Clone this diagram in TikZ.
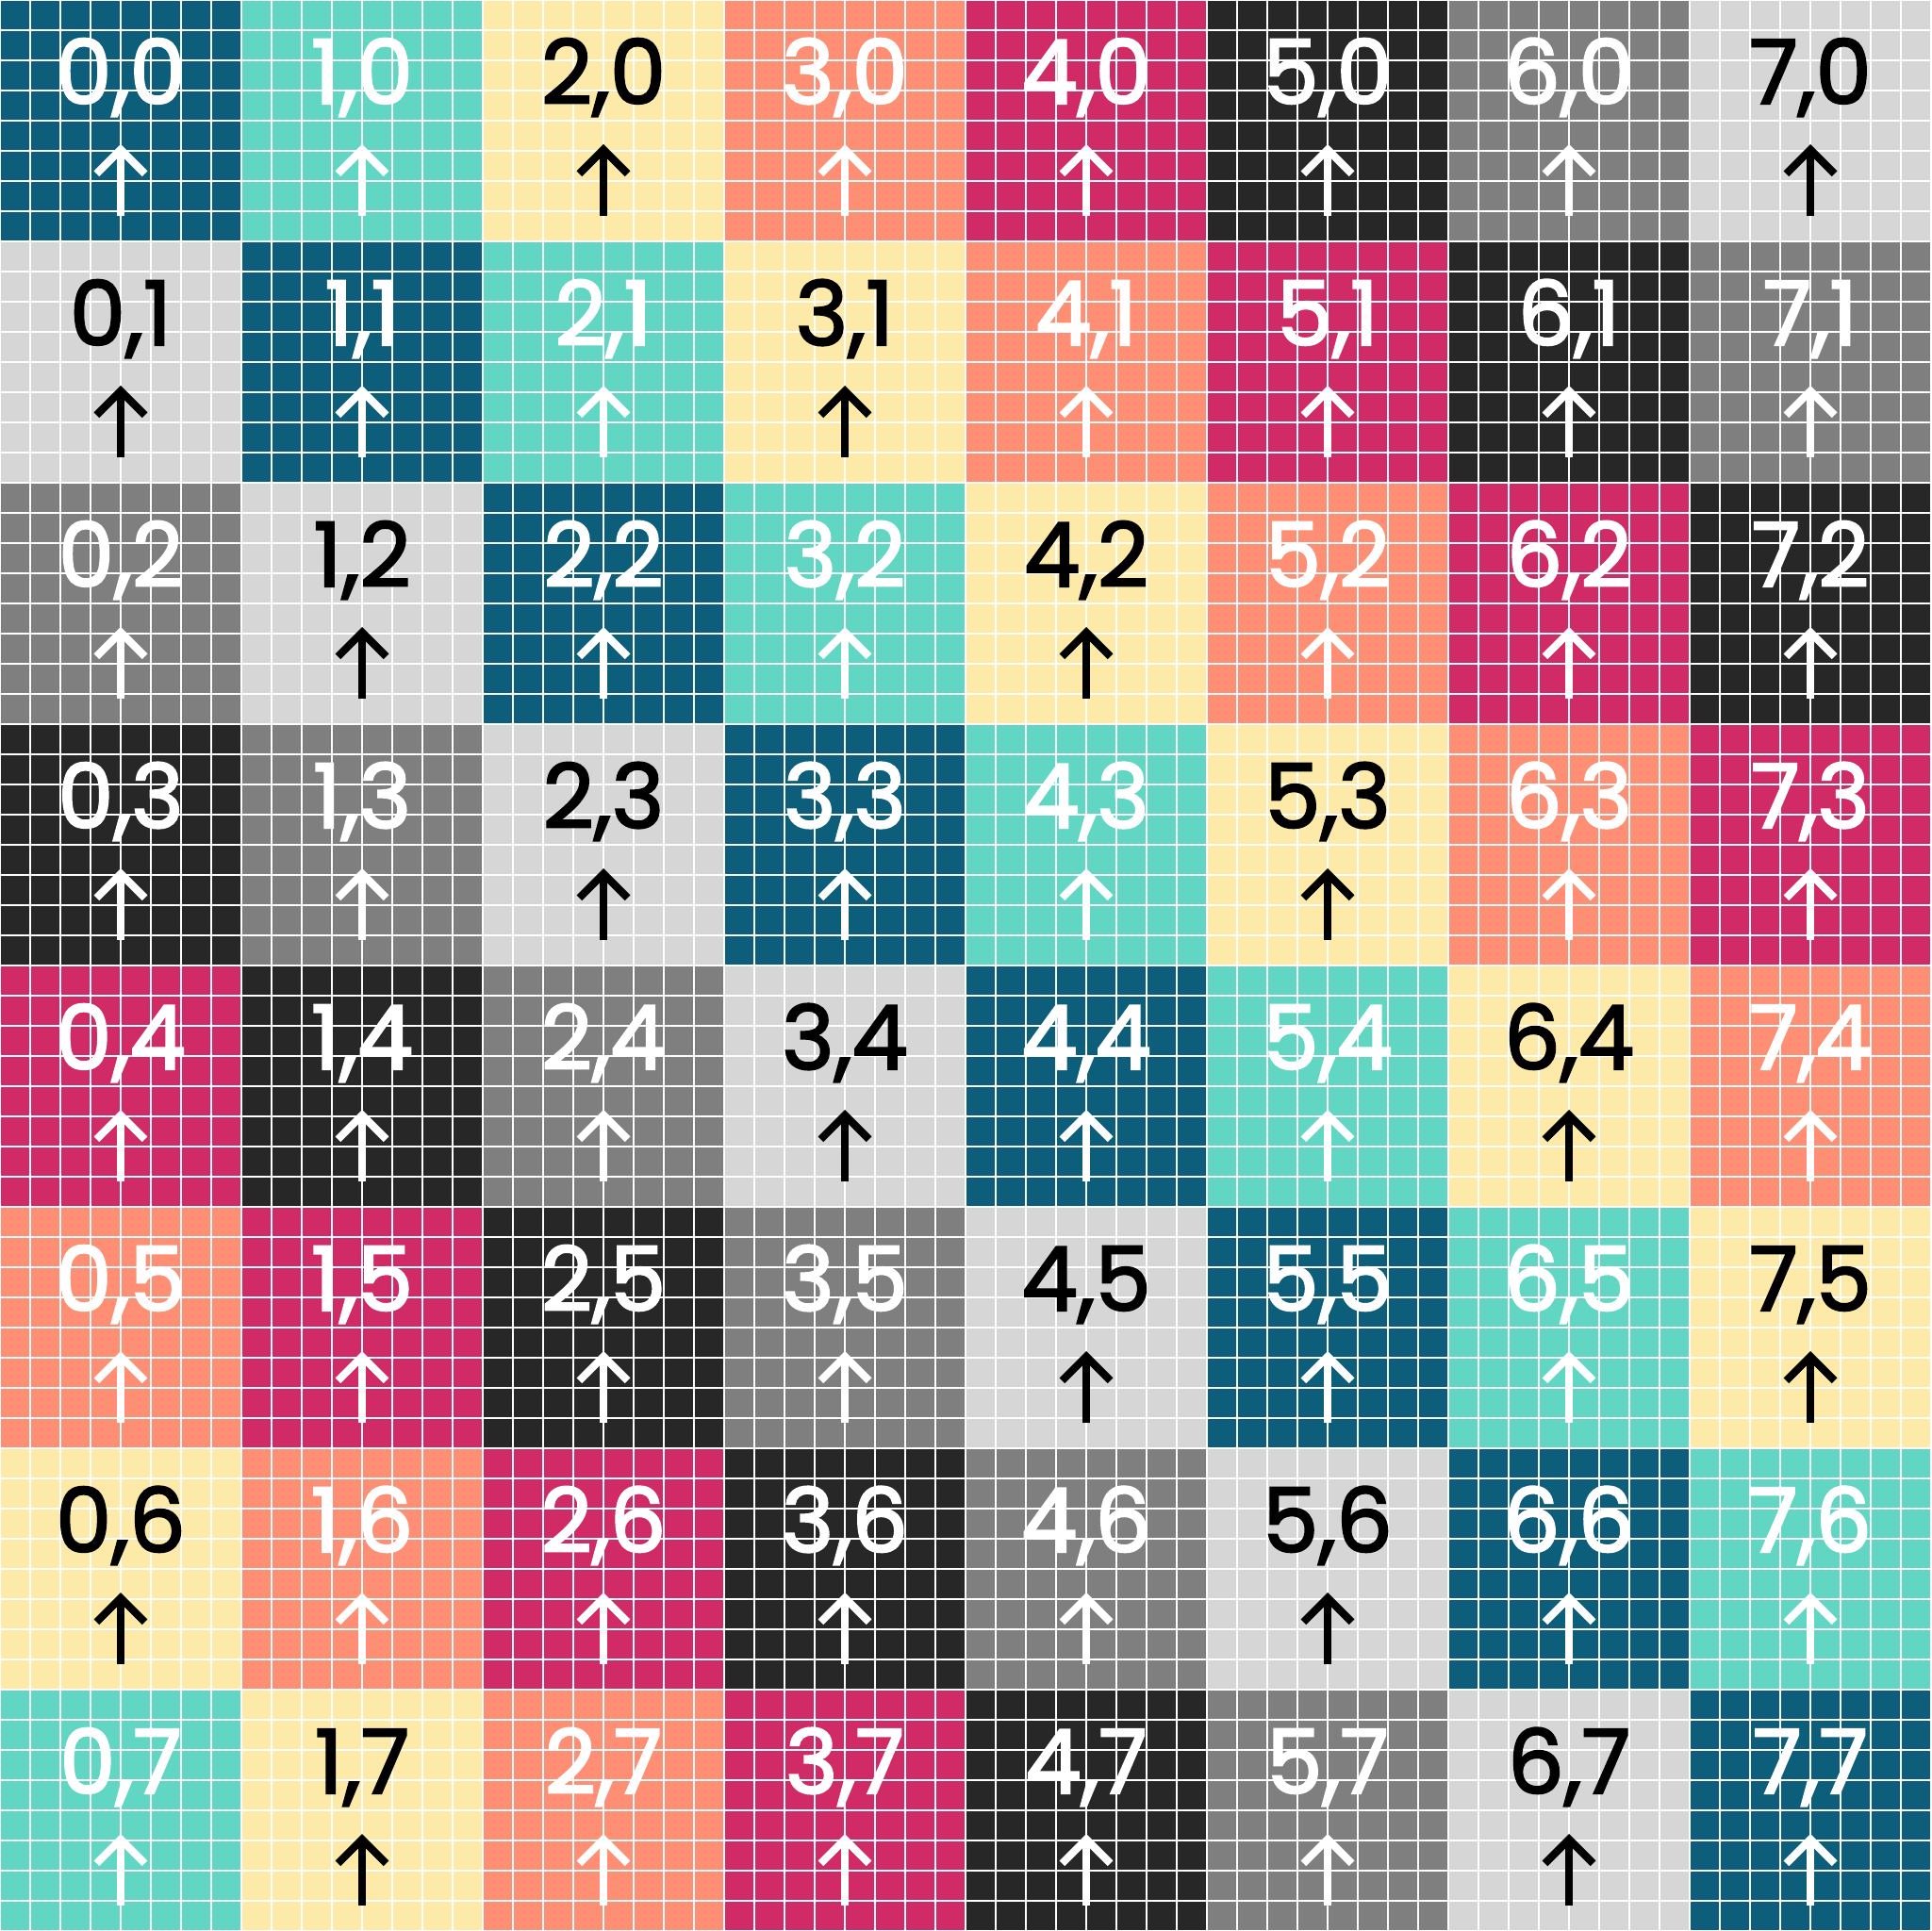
\documentclass[tikz,border=0pt]{standalone}
\usepackage{fontspec}
\setmainfont{Poppins}[FakeBold=2.2]
\usetikzlibrary{positioning,calc}
\definecolor{tile0}{HTML}{0D5E7A}
\definecolor{tile1}{HTML}{61D7C3}
\definecolor{tile2}{HTML}{FEEAA8}
\definecolor{tile3}{HTML}{FE8F74}
\definecolor{tile4}{HTML}{D02B67}
\definecolor{tile5}{HTML}{272727}
\definecolor{tile6}{HTML}{7F7F7F}
\definecolor{tile7}{HTML}{D6D6D6}
\tikzset{
  gridline/.style={white,line width=0.25pt},
  idlabel/.style={anchor=base,inner sep=0pt,font=\fontsize{21}{21}\selectfont},
  uparrow/.style={line width=1.8pt,line cap=butt,line join=miter}
}
\newcommand{\tilefill}[2]{%
  \pgfmathtruncatemacro\k{mod(#1-#2+8,8)}%
  \fill[tile\k] (2*#1,-2*#2) rectangle ++(2,-2);
}
\newcommand{\tilelabel}[2]{%
  \pgfmathtruncatemacro\k{mod(#1-#2+8,8)}%
  \def\ink{white}%
  \ifnum\k=2 \def\ink{black}\fi
  \ifnum\k=7 \def\ink{black}\fi
  \node[idlabel,text=\ink] (t#1#2) at (2*#1+1,-2*#2-0.86) {#1,#2};
  \coordinate (tip#1#2) at (2*#1+1,-2*#2-1.24);
  \draw[uparrow,\ink] (tip#1#2) -- ++(0,-0.55);
  \draw[uparrow,\ink] ($(tip#1#2)+(-0.2,-0.2)$) -- (tip#1#2) -- ++(0.2,-0.2);
}

\begin{document}
\begin{tikzpicture}

  \useasboundingbox (0,0) rectangle (16,-16);
  \foreach \x in {0,...,7}{
    \foreach \y in {0,...,7}{
      \tilefill{\x}{\y}
    }
  }
  % 8 sub-squares per tile
  \foreach \g in {0,...,64}{
    \draw[gridline] (\g/4,0) -- (\g/4,-16);
    \draw[gridline] (0,-\g/4) -- (16,-\g/4);
  }
  \foreach \x in {0,...,7}{
    \foreach \y in {0,...,7}{
      \tilelabel{\x}{\y}
    }
  }

\end{tikzpicture}
\end{document}
